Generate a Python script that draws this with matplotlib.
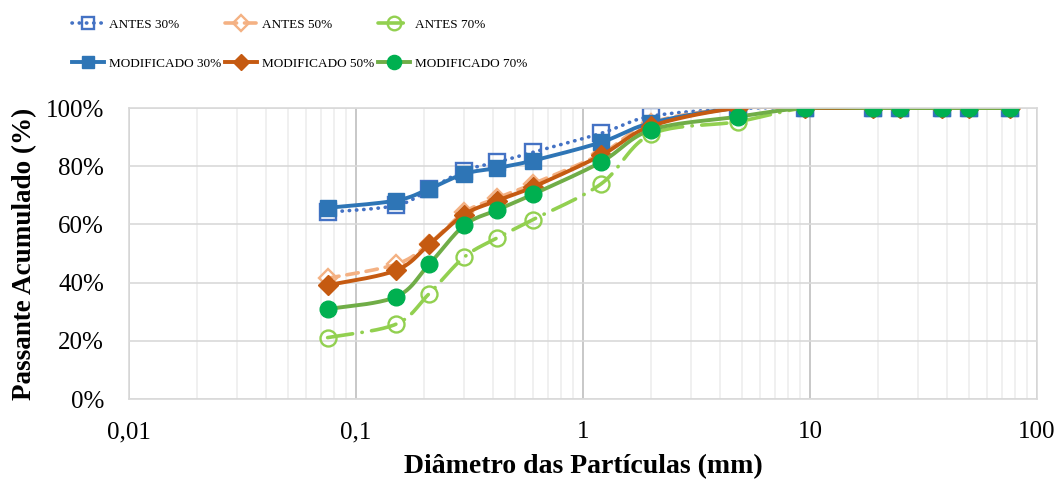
import numpy as np
import matplotlib
matplotlib.use('Agg')
import matplotlib.pyplot as plt
from matplotlib.ticker import FixedLocator, FuncFormatter, LogLocator, NullFormatter

plt.rcParams['font.family'] = ['Liberation Serif', 'DejaVu Serif']

# Peneiras (mm)
diametro = [0.075, 0.15, 0.21, 0.3, 0.42, 0.6, 1.2, 2.0, 4.8, 9.5, 19, 25, 38, 50, 76]

# Passante acumulado (%)
antes_30 = [64.2, 66.5, 72.0, 78.5, 81.4, 84.8, 91.3, 97.2, 99.8, 100, 100, 100, 100, 100, 100]
antes_50 = [41.5, 46.3, 53.4, 64.2, 69.1, 73.9, 84.2, 95.0, 100, 100, 100, 100, 100, 100, 100]
antes_70 = [21.1, 25.7, 36.2, 48.8, 55.4, 61.6, 73.9, 91.0, 95.3, 100, 100, 100, 100, 100, 100]
mod_30 = [65.7, 68.2, 72.2, 77.4, 79.4, 81.9, 88.2, 94.9, 100, 100, 100, 100, 100, 100, 100]
mod_50 = [39.1, 44.2, 53.1, 63.4, 68.2, 72.8, 83.7, 93.8, 100, 100, 100, 100, 100, 100, 100]
mod_70 = [30.9, 35.1, 46.3, 59.7, 65.0, 70.3, 81.4, 92.5, 97.0, 100, 100, 100, 100, 100, 100]

x_ticks = [0.01, 0.1, 1, 10, 100]
x_labels = ['0,01', '0,1', '1', '10', '100']


def suavizar(x, y, n=24):
    # curva suavizada (Catmull-Rom) em escala log, como no Excel
    p = np.column_stack([np.log10(x), y])
    p = np.vstack([p[0], p, p[-1]])
    t = np.linspace(0, 1, n, endpoint=False)[:, None]
    partes = []
    for i in range(1, len(p) - 2):
        p0, p1, p2, p3 = p[i - 1], p[i], p[i + 1], p[i + 2]
        seg = 0.5 * (2 * p1 + (-p0 + p2) * t + (2 * p0 - 5 * p1 + 4 * p2 - p3) * t ** 2
                     + (-p0 + 3 * p1 - 3 * p2 + p3) * t ** 3)
        partes.append(seg)
    partes.append(p[-2][None, :])
    c = np.vstack(partes)
    idx = [i * n for i in range(len(x))]
    return 10 ** c[:, 0], c[:, 1], idx


fig = plt.figure(figsize=(10.6, 4.79), dpi=100)
ax = fig.add_axes([0.1217, 0.167, 0.8566, 0.6075])

series = [
    ('ANTES 30%', antes_30, dict(color='#4472C4', lw=2.6, ls=(0, (0.1, 1.9)), dash_capstyle='round',
                                 marker='s', ms=11, mfc='none', mec='#4472C4', mew=1.7)),
    ('ANTES 50%', antes_50, dict(color='#F4B183', lw=2.6, ls=(0, (3.2, 2.2)), dash_capstyle='round',
                                 marker='D', ms=9, mfc='none', mec='#F4B183', mew=1.7)),
    ('ANTES 70%', antes_70, dict(color='#92D050', lw=2.6, ls=(0, (7, 2.6, 0.1, 2.6)), dash_capstyle='round',
                                 marker='o', ms=11.5, mfc='none', mec='#92D050', mew=1.7)),
    ('MODIFICADO 30%', mod_30, dict(color='#2E75B6', lw=2.8, ls='-', marker='s', ms=11,
                                    mfc='#2E75B6', mec='#2E75B6')),
    ('MODIFICADO 50%', mod_50, dict(color='#C55A11', lw=2.8, ls='-', marker='D', ms=10,
                                    mfc='#C55A11', mec='#C55A11')),
    ('MODIFICADO 70%', mod_70, dict(color='#70AD47', lw=2.8, ls='-', marker='o', ms=12,
                                    mfc='#00B050', mec='#00B050')),
]

linhas = {}
for nome, valores, estilo in series:
    xs, ys, idx = suavizar(diametro, valores)
    ln, = ax.plot(xs, ys, markevery=idx, label=nome, **estilo)
    linhas[nome] = ln

ax.set_xscale('log')
ax.set_xlim(0.01, 100)
ax.set_ylim(0, 100)

ax.xaxis.set_major_locator(FixedLocator(x_ticks))
ax.set_xticklabels(x_labels)
ax.xaxis.set_minor_locator(LogLocator(base=10, subs=np.arange(2, 10)))
ax.xaxis.set_minor_formatter(NullFormatter())
ax.set_yticks(np.arange(0, 101, 20))
ax.yaxis.set_major_formatter(FuncFormatter(lambda v, p: '%d%%' % v))

ax.tick_params(axis='both', which='both', length=0, labelsize=18, colors='black')
ax.tick_params(axis='x', pad=16)
ax.tick_params(axis='y', pad=18)

ax.grid(True, axis='x', which='major', color='#BFBFBF', lw=1.2)
ax.grid(True, axis='x', which='minor', color='#EDEDED', lw=1.2)
ax.grid(True, axis='y', which='major', color='#D9D9D9', lw=1.2)
ax.set_axisbelow(True)
for s in ax.spines.values():
    s.set_color('#D9D9D9')
    s.set_linewidth(1.2)

ax.set_xlabel('Diâmetro das Partículas (mm)', fontsize=20, fontweight='bold', labelpad=8)
ax.set_ylabel('Passante Acumulado (%)', fontsize=19.5, fontweight='bold', labelpad=6)

ordem = ['ANTES 30%', 'MODIFICADO 30%', 'ANTES 50%', 'MODIFICADO 50%', 'ANTES 70%', 'MODIFICADO 70%']
fig.legend([linhas[n] for n in ordem], ordem, ncol=3, loc='upper left',
           bbox_to_anchor=(0.063, 0.972), frameon=False, fontsize=9.5, markerscale=0.85,
           handlelength=2.4, handletextpad=0.4, columnspacing=0.3, labelspacing=2.0,
           borderaxespad=0)

fig.savefig('out.png', dpi=100)
